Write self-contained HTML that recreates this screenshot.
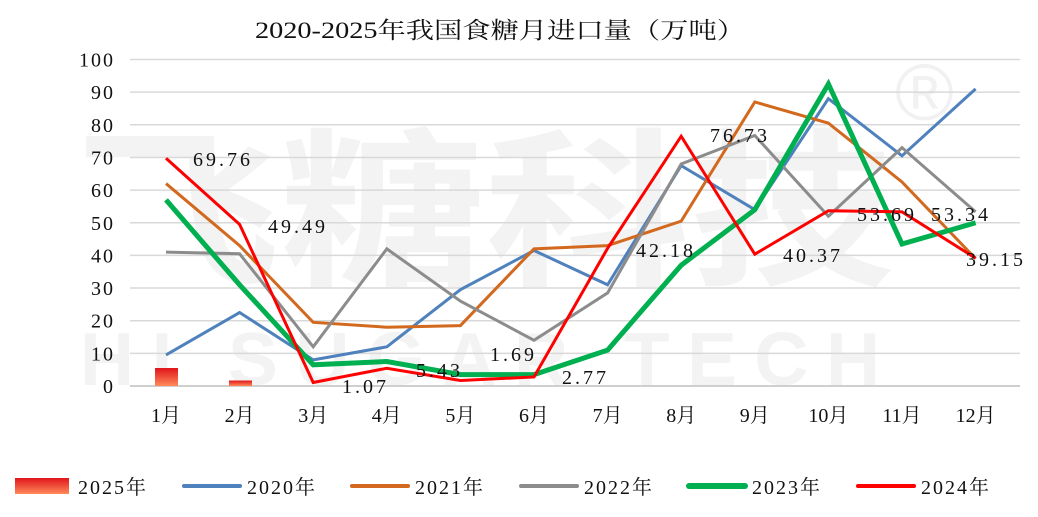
<!DOCTYPE html>
<html><head><meta charset="utf-8"><style>
body{margin:0;background:#fff;width:1038px;height:512px;overflow:hidden}
svg text{font-family:"Liberation Serif","Noto Serif CJK SC",serif;fill:#111}
</style></head><body>
<svg id="s" width="1038" height="512" xmlns="http://www.w3.org/2000/svg">
<defs><linearGradient id="g" x1="0" y1="0" x2="0" y2="1"><stop offset="0" stop-color="#e0141a"/><stop offset="1" stop-color="#ff8a5a"/></linearGradient></defs>
<g>
<text x="75" y="272" font-size="170" style="fill:#f3f3f3;font-family:'Noto Sans CJK SC',sans-serif;font-weight:bold" textLength="820" lengthAdjust="spacingAndGlyphs">飞糖科技</text>
<text x="80" y="385" font-size="75" style="fill:#f3f3f3;font-family:'Liberation Sans',sans-serif;font-weight:bold" textLength="800" lengthAdjust="spacing">HI SUGAR TECH</text>
<text x="895" y="120" font-size="80" style="fill:#f1f1f1;font-family:'Liberation Sans',sans-serif">®</text>
</g>
<text x="500" y="38" font-size="23" text-anchor="middle" textLength="490" lengthAdjust="spacingAndGlyphs">2020-2025年我国食糖月进口量（万吨）</text>
<g id="grid"></g><g id="lines"></g><g id="lab"></g>
</svg>
<script>
const s=document.getElementById('s'),NS='http://www.w3.org/2000/svg';
function el(t,a,p,txt){const e=document.createElementNS(NS,t);for(const k in a)e.setAttribute(k,a[k]);if(txt!==undefined)e.textContent=txt;(p||s).appendChild(e);return e}
const Y=v=>386-v*3.265, X=i=>166+i*73.6;
const G=document.getElementById('grid');
for(let v=0;v<=100;v+=10){el('line',{x1:130,x2:1020,y1:Y(v),y2:Y(v),stroke:v?'#d9d9d9':'#cfcfcf','stroke-width':v?1.5:2},G);
el('text',{x:115,y:Y(v)+7,'font-size':20,'text-anchor':'end','letter-spacing':'2'},G,v)}
for(let i=0;i<12;i++)el('text',{x:X(i),y:422,'font-size':20,'text-anchor':'middle'},G,(i+1)+'月');
el('rect',{x:155,y:368,width:23,height:18,fill:'url(#g)'},G);
el('rect',{x:229,y:380.5,width:23,height:5.5,fill:'url(#g)'},G);
const L=document.getElementById('lines');
const ser=[
['#4f81bd',3,[9.5,22.5,8,12,29.5,41.5,31,67.5,54,88,70.5,91]],
['#d2691e',3,[62,43,19.5,18,18.5,42,43,50.5,87,80.5,62.5,39]],
['#8c8c8c',3,[41,40.5,12,42,26,14,28.5,68,76.73,52,73,53.34]],
['#00b050',5,[57,31,6.5,7.5,3.5,3.5,11,37,54,92.5,43.5,50]],
['#ff0000',3,[69.76,49.49,1.07,5.43,1.69,2.77,42.18,76.5,40.37,53.69,53.34,39.15]]];
for(const [c,w,d] of ser)el('polyline',{points:d.map((v,i)=>X(i)+','+Y(v)).join(' '),fill:'none',stroke:c,'stroke-width':w,'stroke-linejoin':'miter'},L);
const Lb=document.getElementById('lab');
[[193,166,'69.76'],[268,233,'49.49'],[342,393,'1.07'],[416,377,'5.43'],[490,361,'1.69'],[562,384,'2.77'],[636,257,'42.18'],[710,142,'76.73'],[783,262,'40.37'],[857,221,'53.69'],[931,221,'53.34'],[966,266,'39.15']].forEach(a=>el('text',{x:a[0],y:a[1],'font-size':20,'letter-spacing':'3'},Lb,a[2]));
const ly=486;
el('rect',{x:15,y:478,width:54,height:16,fill:'url(#g)'});
el('text',{x:78,y:494,'font-size':20,'letter-spacing':'2'},s,'2025年');
[['#4f81bd',3,184,'2020年'],['#d2691e',3,352,'2021年'],['#8c8c8c',3,521,'2022年'],['#00b050',5,689,'2023年'],['#ff0000',3,858,'2024年']].forEach(a=>{
el('line',{x1:a[2],x2:a[2]+56,y1:ly,y2:ly,stroke:a[0],'stroke-width':a[1]+1,'stroke-linecap':'round'});
el('text',{x:a[2]+63,y:494,'font-size':20,'letter-spacing':'2'},s,a[3]);});
</script>
</body></html>
